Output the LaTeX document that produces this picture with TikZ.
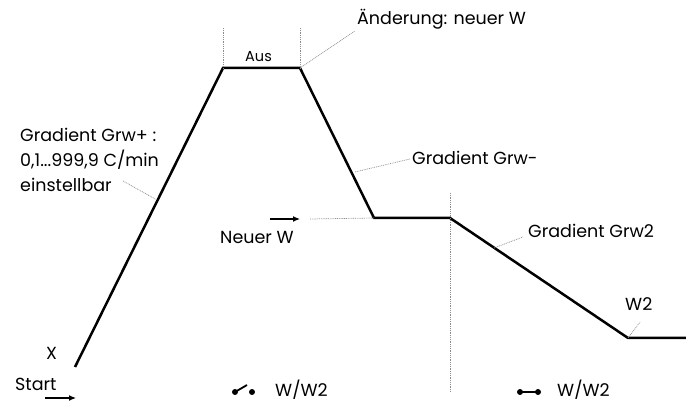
\documentclass[tikz,border=0pt]{standalone}
\usepackage{fontspec}
\setmainfont{Poppins}
\usetikzlibrary{arrows.meta}
\begin{document}
\begin{tikzpicture}[x=1pt,y=-1pt,
  profile/.style={line width=2.5pt,line join=miter},
  leader/.style={draw=black!45,line width=0.7pt,dash pattern=on 0.9pt off 0.9pt},
  lbl/.style={font=\fontsize{17.5}{25}\selectfont,inner sep=0pt,anchor=west},
  arr/.style={line width=1.2pt,-{Latex[length=7pt,width=6pt]}},
  dotnode/.style={circle,fill=black,inner sep=0pt,minimum size=6pt}]
\useasboundingbox (0,0) rectangle (686,403);
% profile points
\coordinate (p0) at (75,367);
\coordinate (p1) at (223,68);
\coordinate (p2) at (300,68);
\coordinate (p3) at (374,218);
\coordinate (p4) at (450,218);
\coordinate (p5) at (628,338);
\coordinate (p6) at (686,338);
\draw[profile] (p0) -- (p1) -- (p2) -- (p3) -- (p4) -- (p5) -- (p6);
% vertical dotted markers
\coordinate (v1t) at (223,28);
\coordinate (v2t) at (300,28);
\coordinate (v3t) at (450,193);
\coordinate (v3b) at (450,392);
\draw[leader] (v1t) -- (p1);
\draw[leader] (v2t) -- (p2);
\draw[leader] (v3t) -- (v3b);
% labels
\node[lbl,font=\fontsize{14.5}{16}\selectfont] (aus) at (245,57) {Aus};
\node[lbl] (aend) at (357,19) {Änderung: neuer W};
\coordinate (aendl) at (355,31);
\draw[leader] (p2) -- (aendl);
\node[lbl,align=left] (grp) at (20,160) {Gradient Grw+ :\\0,1...999,9 C/min\\einstellbar};
\coordinate (grpa) at (123,181);
\coordinate (grpb) at (157,200);
\draw[leader] (grpa) -- (grpb);
\node[lbl] (grm) at (412,158) {Gradient Grw-};
\coordinate (grma) at (355,172);
\coordinate (grmb) at (410,159);
\draw[leader] (grma) -- (grmb);
\node[lbl] (neu) at (220,237) {Neuer W};
\coordinate (neua) at (270,219);
\coordinate (neub) at (300,219);
\coordinate (neuc) at (310,219);
\draw[arr] (neua) -- (neub);
\draw[leader] (neuc) -- (p3);
\node[lbl] (gr2) at (528,231) {Gradient Grw2};
\coordinate (gr2a) at (494,248);
\coordinate (gr2b) at (523,237);
\draw[leader] (gr2a) -- (gr2b);
\node[lbl] (w2) at (625,304) {W2};
\coordinate (w2a) at (640,322);
\draw[leader] (p5) -- (w2a);
\node[lbl] (x) at (46,353) {X};
\node[lbl] (start) at (15,384) {Start};
\coordinate (sa) at (45,398);
\coordinate (sb) at (76,398);
\draw[arr] (sa) -- (sb);
% open switch
\node[dotnode] (s1a) at (235,392) {};
\node[dotnode] (s1b) at (252,392) {};
\coordinate (s1c) at (247,385);
\draw[line width=1.8pt] (s1a.center) -- (s1c);
\node[lbl] (ww1) at (275,390) {W/W2};
% closed switch
\node[dotnode] (s2a) at (520,392) {};
\node[dotnode] (s2b) at (538,392) {};
\draw[line width=1.8pt] (s2a.center) -- (s2b.center);
\node[lbl] (ww2) at (557,390) {W/W2};
\end{tikzpicture}
\end{document}
